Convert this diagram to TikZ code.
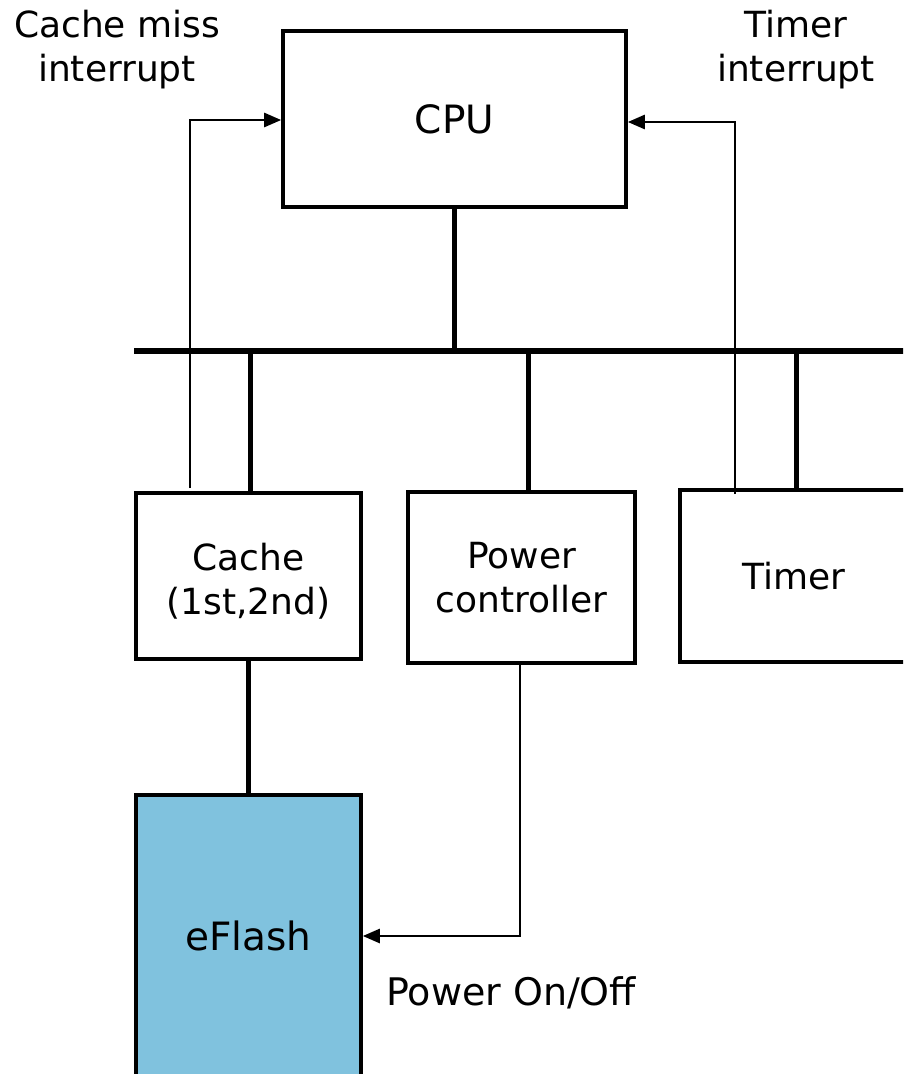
\documentclass[tikz,border=0pt]{standalone}
\usepackage{fontspec}
\setmainfont{DejaVu Sans}
\usetikzlibrary{arrows.meta}
\definecolor{flashblue}{RGB}{128,194,222}
\tikzset{
  box/.style={draw=black, line width=3.6pt, rectangle, inner sep=0pt, align=center,
    font=\fontsize{36}{44}\selectfont},
  bigbox/.style={box, font=\fontsize{39}{46}\selectfont},
  buswire/.style={line width=6pt},
  busdrop/.style={line width=5pt},
  signal/.style={line width=2.6pt, -{Triangle[length=17pt,width=14pt]}},
  lbl/.style={inner sep=0pt, align=center, font=\fontsize{36}{44}\selectfont},
}
\begin{document}
\begin{tikzpicture}[x=1pt,y=-1pt]
\useasboundingbox (0,0) rectangle (903,1074);
\clip (0,0) rectangle (903,1074);
% boxes
\node[bigbox, minimum width=343pt, minimum height=176pt] (cpu) at (454.5,119) {CPU};
\node[box, minimum width=225pt, minimum height=166pt,
  label={[lbl, yshift=-5pt]center:{Cache\\(1st,2nd)}}] (cache) at (248.5,576) {};
\node[box, minimum width=227pt, minimum height=171pt] (power) at (521.5,577.5) {Power\\controller};
\node[box, minimum width=246pt, minimum height=172pt, text width=246pt] (timer) at (803,576) {\hspace*{-18pt}Timer};
\node[bigbox, fill=flashblue, minimum width=225pt, minimum height=282pt] (eflash) at (248.5,936) {eFlash};
% bus
\coordinate (busL) at (134,351);
\coordinate (busR) at (910,351);
\draw[buswire] (busL) -- (busR);
\draw[busdrop] (cpu.south) -- (cpu.south |- busL);
\draw[busdrop] (cache.north -| 250,0) -- (250,351);
\draw[busdrop] (power.north -| 528,0) -- (528,351);
\draw[busdrop] (timer.north -| 796,0) -- (796,351);
\draw[busdrop] (cache.south) -- (eflash.north);
% signals
\coordinate (cmstart) at (190,488);
\coordinate (tistart) at (735,494);
\draw[signal] (cmstart) |- ([yshift=-1pt]cpu.west);
\draw[signal] (tistart) |- ([yshift=-3pt]cpu.east);
\draw[signal] (power.south -| 520,0) |- (eflash.east);
% labels
\node[lbl] (cmlabel) at (117,50) {Cache miss\\interrupt};
\node[lbl] (tilabel) at (796,50) {Timer\\interrupt};
\node[lbl, anchor=west, font=\fontsize{38}{44}\selectfont] (pwlabel) at (386,993) {Power On/Off};
\end{tikzpicture}
\end{document}
